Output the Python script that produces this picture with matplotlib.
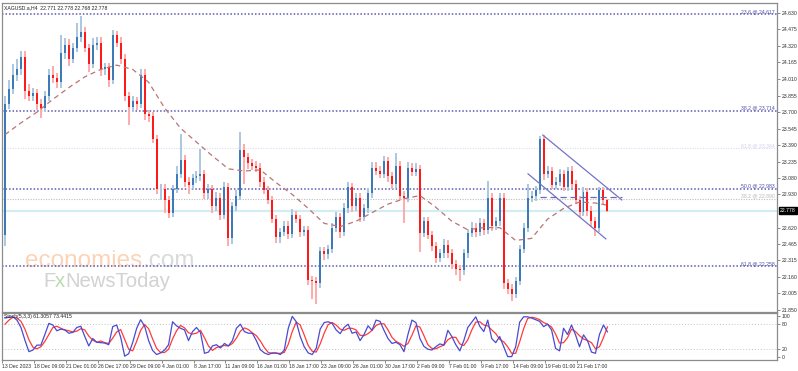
import matplotlib
matplotlib.use("Agg")
import matplotlib.pyplot as plt
import numpy as np

# ---------------- data ----------------
first_open = 22.55
closes = [
    23.78, 23.92, 24.05, 24.10, 24.22, 23.90, 23.85, 23.88, 23.78, 23.74,
    23.85, 24.05, 24.02, 23.98, 24.25, 24.33, 24.20, 24.30, 24.40, 24.45,
    24.30, 24.15, 24.33, 24.35, 24.10, 24.12, 24.00, 24.42, 24.35, 24.20,
    23.85, 23.75, 23.80, 23.78, 24.05, 23.68, 23.66, 23.45, 22.98, 22.98,
    22.88, 22.76, 22.98, 23.12, 23.25, 23.05, 23.02, 23.08, 23.10, 23.12,
    22.94, 22.98, 22.82, 22.90, 22.74, 23.00, 22.52, 22.82, 22.92, 23.35,
    23.28, 23.22, 23.20, 23.18, 23.05, 22.97, 22.88, 22.70, 22.53, 22.58,
    22.64, 22.56, 22.74, 22.70, 22.58, 22.60, 22.13, 22.12, 22.10, 22.40,
    22.37, 22.42, 22.62, 22.72, 22.58, 22.80, 23.00, 22.82, 22.90, 22.72,
    22.80, 22.94, 23.18, 23.15, 23.12, 23.24, 23.10, 23.03, 23.20, 22.92,
    22.90, 23.18, 23.14, 23.17, 22.57, 22.68, 22.55, 22.45, 22.34, 22.38,
    22.46, 22.38, 22.28, 22.23, 22.22, 22.38, 22.57, 22.62, 22.58, 22.66,
    22.60, 22.90, 22.64, 22.68, 22.90, 22.10, 22.05, 22.00, 22.12, 22.42,
    22.62, 22.90, 22.92, 22.97, 23.45, 23.12, 23.15, 23.02, 23.05, 23.12,
    23.00, 23.15, 23.03, 22.88, 22.77, 22.95, 22.78, 22.68, 22.62, 22.97,
    22.88, 22.778,
]
upper_wick = [
    .07, .08, .10, .10, .05, .05, .06, .05, .04, .04,
    .05, .05, .08, .05, .17, .06, .05, .05, .13, .15,
    .05, .04, .06, .05, .05, .04, .04, .05, .04, .05,
    .04, .04, .05, .04, .05, .05, .04, .04, .04, .05,
    .05, .04, .04, .08, .25, .05, .04, .04, .05, .24,
    .04, .05, .04, .05, .04, .05, .04, .04, .05, .16,
    .05, .04, .04, .04, .04, .04, .04, .04, .04, .04,
    .04, .04, .05, .04, .04, .04, .04, .04, .04, .04,
    .04, .04, .04, .05, .04, .05, .05, .04, .04, .04,
    .04, .05, .05, .05, .05, .05, .04, .04, .12, .04,
    .04, .05, .04, .05, .04, .04, .04, .04, .04, .04,
    .05, .04, .04, .04, .04, .04, .04, .05, .04, .05,
    .04, .16, .04, .04, .04, .04, .04, .04, .04, .04,
    .04, .13, .04, .04, .03, .04, .05, .04, .04, .05,
    .04, .04, .05, .04, .04, .05, .04, .04, .04, .03,
    .03, .01,
]
lower_wick = [
    .10, .05, .05, .06, .05, .08, .05, .05, .06, .09,
    .04, .05, .05, .05, .05, .05, .07, .04, .04, .04,
    .04, .07, .04, .05, .06, .05, .06, .04, .04, .05,
    .05, .17, .05, .06, .04, .05, .05, .04, .05, .10,
    .12, .05, .04, .04, .04, .05, .09, .04, .04, .04,
    .05, .05, .06, .04, .05, .04, .07, .05, .04, .04,
    .25, .05, .04, .04, .05, .04, .04, .04, .05, .05,
    .04, .05, .04, .04, .05, .04, .05, .17, .19, .04,
    .05, .04, .04, .04, .06, .04, .04, .05, .04, .05,
    .04, .04, .04, .04, .04, .04, .05, .05, .04, .04,
    .24, .04, .04, .04, .18, .04, .04, .05, .05, .04,
    .04, .04, .05, .05, .10, .04, .04, .04, .05, .04,
    .05, .04, .05, .04, .04, .05, .05, .07, .04, .04,
    .04, .04, .04, .05, .04, .05, .04, .04, .04, .04,
    .04, .04, .04, .04, .05, .04, .05, .05, .08, .04,
    .04, .01,
]
# moving average, read every 4th bar (last value at the final bar)
ma_values = [
    23.49, 23.60, 23.70, 23.82, 23.93, 24.03, 24.10, 24.14, 24.10, 23.98,
    23.74, 23.55, 23.42, 23.29, 23.17, 23.15, 23.16, 23.04, 22.93, 22.80,
    22.66, 22.63, 22.68, 22.76, 22.84, 22.89, 22.92, 22.81, 22.68, 22.60,
    22.62, 22.62, 22.50, 22.52, 22.70, 22.80, 22.86, 22.85, 22.83,
]
stoch_k = [
    95, 97, 98, 90, 72, 41, 13, 17, 29, 29,
    55, 82, 78, 64, 68, 66, 58, 60, 72, 75,
    50, 27, 45, 36, 35, 34, 30, 74, 78, 48,
    2, 8, 35, 70, 91, 75, 40, 16, 6, 10,
    17, 30, 86, 76, 70, 66, 40, 62, 72, 60,
    9, 12, 27, 30, 22, 33, 27, 40, 70, 80,
    62, 58, 58, 40, 18, 10, 6, 10, 10, 6,
    17, 70, 99, 86, 50, 25, 10, 6, 21, 68,
    84, 86, 82, 66, 57, 72, 80, 58, 61, 40,
    55, 76, 65, 90, 87, 65, 45, 33, 36, 30,
    13, 55, 90, 84, 45, 26, 19, 17, 25, 32,
    29, 65, 50, 30, 15, 40, 72, 85, 98, 75,
    62, 90, 45, 35, 50, 25, 1, 1, 25, 85,
    98, 98, 95, 91, 87, 74, 80, 66, 21, 15,
    70, 55, 78, 54, 25, 54, 40, 12, 9, 55,
    78, 61.3057,
]
stoch_d = [
    80, 90, 97, 95, 87, 68, 42, 24, 20, 25,
    38, 55, 72, 75, 70, 66, 64, 61, 63, 69,
    66, 51, 41, 36, 39, 35, 33, 46, 61, 67,
    43, 19, 15, 38, 65, 79, 69, 44, 21, 11,
    11, 19, 44, 64, 77, 71, 59, 56, 58, 65,
    47, 27, 16, 23, 26, 28, 27, 33, 46, 63,
    71, 67, 59, 52, 39, 23, 11, 9, 9, 9,
    11, 31, 62, 85, 78, 54, 28, 14, 12, 32,
    58, 79, 84, 78, 68, 65, 70, 70, 66, 53,
    52, 57, 65, 77, 81, 81, 66, 48, 38, 33,
    26, 33, 53, 76, 73, 52, 30, 21, 20, 25,
    29, 42, 48, 48, 32, 28, 42, 66, 85, 86,
    78, 76, 66, 57, 43, 37, 25, 9, 9, 37,
    69, 94, 97, 95, 91, 84, 80, 73, 56, 34,
    35, 47, 68, 62, 52, 44, 40, 35, 20, 25,
    47, 73.4415,
]
date_labels = ["13 Dec 2023", "18 Dec 09:00", "21 Dec 01:00", "26 Dec 17:00",
               "29 Dec 09:00", "4 Jan 01:00", "8 Jan 17:00", "11 Jan 09:00",
               "16 Jan 01:00", "18 Jan 17:00", "23 Jan 09:00", "26 Jan 01:00",
               "30 Jan 17:00", "2 Feb 09:00", "7 Feb 01:00", "9 Feb 17:00",
               "14 Feb 09:00", "19 Feb 01:00", "21 Feb 17:00"]
price_tick_labels = ["24.630", "24.475", "24.320", "24.165", "24.010", "23.855",
                     "23.700", "23.545", "23.390", "23.235", "23.080", "22.930",
                     "22.620", "22.465", "22.315", "22.160", "22.005", "21.850"]
fib_levels = [24.617, 23.714, 23.364, 22.983, 22.890, 22.258]
fib_labels = ["23.6 @ 24.617", "38.2 @ 23.714", "61.8 @ 23.364",
              "50.0 @ 22.983", "38.2 @ 22.890", "61.8 @ 22.258"]
fib_strong = [True, True, False, True, False, True]
last_price = 22.778
# channel drawn on the chart: (bar index, price) end points
chan_upper_bars = [134.8, 154.6]
chan_upper_prices = [23.486, 22.879]
chan_lower_bars = [131.1, 150.6]
chan_lower_prices = [23.123, 22.515]
chan_mid_bars = [134.1, 154.6]
chan_mid_prices = [22.907, 22.907]

# ---------------- figure ----------------
W, H = 798, 371
fig = plt.figure(figsize=(W / 100, H / 100), dpi=100)
fig.patch.set_facecolor("white")
plt.rcParams['font.family'] = ['Liberation Sans', 'DejaVu Sans']
FS = 3.7

def px_axes(l, t, r, b):
    return fig.add_axes([l / W, 1 - b / H, (r - l) / W, (b - t) / H])

ax = px_axes(2, 3, 777, 312)
ax2 = px_axes(2, 313, 777, 360)

n = len(closes)
idx = np.arange(n)
closes_a = np.array(closes)
opens_a = np.array([first_open] + closes[:-1])
highs_a = np.maximum(opens_a, closes_a) + np.array(upper_wick)
lows_a = np.minimum(opens_a, closes_a) - np.array(lower_wick)
up = closes_a >= opens_a

body_up, body_dn = "#3d7ab8", "#ff1a1a"
wick_up, wick_dn = "#abc8e2", "#ffaaaa"

ax.vlines(idx, lows_a, highs_a, colors=np.where(up, wick_up, wick_dn),
          linewidth=1.4, zorder=3)
heights = closes_a - opens_a
heights = np.where(np.abs(heights) < 0.006, 0.006, heights)
ax.bar(idx, heights, bottom=opens_a, width=0.5,
       color=np.where(up, body_up, body_dn), linewidth=0, zorder=4)

# moving average
ma_bars = list(range(0, n - 3, 4)) + [n - 1]
ax.plot(ma_bars, ma_values, color="#b87575", linewidth=0.9,
        dashes=(4, 3), zorder=5)

xmin, xmax = -0.75, 193.5
ax.set_xlim(xmin, xmax)
ax.set_ylim(21.831, 24.721)

# fibonacci lines
for lvl, lab, strong in zip(fib_levels, fib_labels, fib_strong):
    if strong:
        col, tcol = "#5a5ab4", "#4a4aa8"
    elif lvl > 23:
        col, tcol = "#dcdcf4", "#d0d0ee"
    else:
        col, tcol = "#bdbdbd", "#b8b8b8"
    ax.axhline(lvl, color=col, linewidth=1.1 if strong else 0.8,
               linestyle=(0, (1, 1.3)), zorder=2)
    ax.text(0.997, lvl, lab, transform=ax.get_yaxis_transform(),
            ha="right", va="bottom", fontsize=FS, color=tcol, zorder=6)

# current price line
ax.axhline(last_price, color="#d2eef2", linewidth=1.6, zorder=1)
ax.text(1.004, last_price, "22.778", transform=ax.get_yaxis_transform(),
        ha="left", va="center", fontsize=FS, color="white", zorder=10,
        bbox=dict(boxstyle="square,pad=0.2", fc="black", ec="black"),
        clip_on=False)

# channel
chan_col = "#7474c6"
ax.plot(chan_upper_bars, chan_upper_prices, color=chan_col, linewidth=0.9, zorder=6)
ax.plot(chan_lower_bars, chan_lower_prices, color=chan_col, linewidth=0.9, zorder=6)
ax.plot(chan_mid_bars, chan_mid_prices, color="#6a6ab8", linewidth=0.9,
        dashes=(5, 3), zorder=6)

# watermark
t1 = ax.text(0.0297, 0.1456, "economies", transform=ax.transAxes,
             fontsize=17.5, color="#fbd3b6", family="Liberation Sans",
             ha="left", va="baseline", zorder=1.5)
ax.annotate(".com", xy=(1, 0), xycoords=t1, fontsize=17.5, color="#dadada",
            family="Liberation Sans", va="bottom", ha="left", zorder=1.5)
t2 = ax.text(0.0529, 0.081, "F", transform=ax.transAxes, fontsize=14.6,
             color="#d2d2d2", family="Liberation Sans", ha="left",
             va="baseline", zorder=1.5)
t3 = ax.annotate("x", xy=(1, 0), xycoords=t2, fontsize=14.6, color="#b8dcb0",
                 family="Liberation Sans", va="bottom", ha="left", zorder=1.5)
ax.annotate("NewsToday", xy=(1, 0), xycoords=t3, fontsize=14.6,
            color="#d2d2d2", family="Liberation Sans", va="bottom",
            ha="left", zorder=1.5)

# title
ax.text(0.003, 0.992, "XAGUSD.a,H4  22.771 22.778 22.768 22.778",
        transform=ax.transAxes, ha="left", va="top", fontsize=FS,
        color="#202020", zorder=10)

# axes styling
frame_col = "#8c8c8c"
for a in (ax, ax2):
    for s in a.spines.values():
        s.set_color(frame_col)
        s.set_linewidth(0.9)
    a.yaxis.tick_right()
    a.tick_params(axis="y", which="both", direction="out", length=2,
                  width=0.6, color="#777777", pad=1.2, labelsize=FS,
                  labelcolor="#303030")

price_ticks = [float(s) for s in price_tick_labels]
ax.set_yticks(price_ticks)
ax.set_yticklabels(price_tick_labels)
ax.set_xticks([])

# stochastic panel
ax2.plot(idx, stoch_d, color="#ff3b3b", linewidth=0.9, zorder=3)
ax2.plot(idx, stoch_k, color="#4a4ad0", linewidth=0.9, zorder=4)
for lvl in (80, 20):
    ax2.axhline(lvl, color="#c4c4c4", linewidth=0.7, linestyle=(0, (1, 2)), zorder=1)
ax2.set_xlim(xmin, xmax)
ax2.set_ylim(-7.3, 107.3)
ax2.set_yticks([100, 80, 20, 0])
ax2.set_yticklabels(["100", "80", "20", "0"])
ax2.text(0.003, 0.985, "Stoch(5,3,3) 61.3057 73.4415", transform=ax2.transAxes,
         ha="left", va="top", fontsize=FS, color="#202020", zorder=10)

tick_pos = [8 * k + xmin for k in range(len(date_labels))]
ax2.set_xticks(tick_pos)
ax2.set_xticklabels(date_labels, ha="left")
ax2.tick_params(axis="x", direction="out", length=2, width=0.6,
                color="#777777", pad=1.0, labelsize=FS, labelcolor="#303030")

fig.savefig("out.png", dpi=100, facecolor="white")
